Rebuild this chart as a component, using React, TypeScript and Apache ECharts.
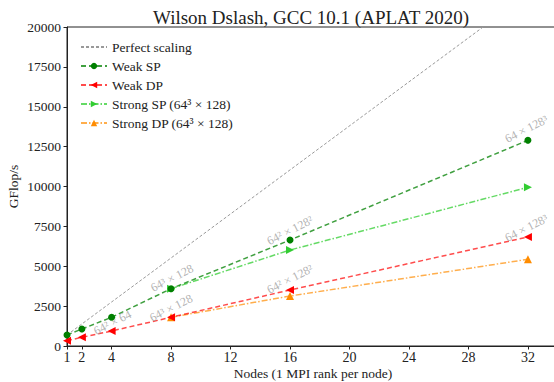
import React, { useEffect, useRef } from "react";
import * as echarts from "echarts";

const nodes = [1, 2, 4, 8, 16, 32];
const strongNodes = [8, 16, 32];
const perfectScaling = [690, 1380, 2760, 5520, 11040, 22080];
const weakSP = [690, 1066, 1800, 3594, 6646, 12897];
const weakDP = [332, 545, 940, 1800, 3511, 6834];
const strongSP = [3594, 6019, 9950];
const strongDP = [1800, 3135, 5436];
const xTicks = [1, 2, 4, 8, 12, 16, 20, 24, 28, 32];

const annotText = ["64² × 64", "64³ × 128", "64³ × 128", "64² × 128²", "64² × 128²", "64 × 128³", "64 × 128³"];
const annotX = [4.06, 8.06, 8.0, 16.0, 16.0, 31.9, 31.9];
const annotY = [1473, 4264, 2383, 7250, 4200, 13606, 7400];

const FONT = "'Liberation Serif', serif";

const pairs = (xs: number[], ys: number[]) => xs.map((x, i) => [x, ys[i]]);

export default function App() {
  const ref = useRef<HTMLDivElement>(null);
  useEffect(() => {
    if (!ref.current) return;
    const chart = echarts.init(ref.current, null, { renderer: "svg" });
    const lw = 1.5;
    chart.setOption({
      animation: false,
      backgroundColor: "#fff",
      title: {
        text: "Wilson Dslash, GCC 10.1 (APLAT 2020)",
        left: 306,
        textAlign: "center",
        top: 3,
        textStyle: { fontFamily: FONT, fontSize: 19, fontWeight: "normal", color: "#222" },
      },
      legend: {
        orient: "vertical",
        left: 75,
        top: 35,
        itemWidth: 26,
        itemHeight: 8,
        itemGap: 5,
        textStyle: { fontFamily: FONT, fontSize: 13.5, color: "#222" },
        data: [
          { name: "Perfect scaling", itemStyle: { opacity: 0 } },
          "Weak SP",
          "Weak DP",
          "Strong SP (64³ × 128)",
          "Strong DP (64³ × 128)",
        ],
      },
      grid: {
        left: 67,
        top: 27,
        right: -5,
        bottom: 36,
        show: true,
        borderColor: "#222",
        borderWidth: 1,
        containLabel: false,
        outerBoundsMode: "none",
      },
      xAxis: {
        type: "value",
        min: 1,
        max: 34.09,
        name: "Nodes (1 MPI rank per node)",
        nameLocation: "middle",
        nameGap: 20,
        nameMoveOverlap: false,
        nameTextStyle: { fontFamily: FONT, fontSize: 13.5, color: "#222" },
        axisLine: { lineStyle: { color: "#222" } },
        splitLine: { show: false },
        axisTick: { customValues: xTicks, length: 3.5, lineStyle: { color: "#222" } },
        axisLabel: {
          customValues: xTicks,
          fontFamily: FONT,
          fontSize: 14,
          color: "#222",
          margin: 4,
        },
      },
      yAxis: {
        type: "value",
        min: 0,
        max: 20000,
        interval: 2500,
        name: "GFlop/s",
        nameLocation: "middle",
        nameGap: 47,
        nameMoveOverlap: false,
        nameTextStyle: { fontFamily: FONT, fontSize: 13.5, color: "#222" },
        axisLine: { show: true, lineStyle: { color: "#222" } },
        splitLine: { show: false },
        axisTick: { show: true, length: 3.5, lineStyle: { color: "#222" } },
        axisLabel: {
          fontFamily: FONT,
          fontSize: 13.5,
          color: "#222",
          margin: 6,
          formatter: (v: number) => String(v),
        },
      },
      series: [
        {
          name: "Perfect scaling",
          type: "line",
          data: pairs(nodes, perfectScaling),
          showSymbol: false,
          symbol: "none",
          color: "#999",
          lineStyle: { color: "#999", width: 1, type: [3, 2] },
          z: 1,
        },
        {
          name: "Weak SP",
          type: "line",
          data: pairs(nodes, weakSP),
          symbol: "circle",
          symbolSize: 7,
          color: "#008000",
          itemStyle: { color: "#008000" },
          lineStyle: { color: "rgba(0,128,0,0.75)", width: lw, type: [5, 3] },
          z: 3,
        },
        {
          name: "Weak DP",
          type: "line",
          data: pairs(nodes, weakDP),
          symbol: "triangle",
          symbolRotate: 90,
          symbolSize: 8,
          color: "#ff0000",
          itemStyle: { color: "#ff0000" },
          lineStyle: { color: "rgba(255,0,0,0.7)", width: lw, type: [5, 3] },
          z: 3,
        },
        {
          name: "Strong SP (64³ × 128)",
          type: "line",
          data: pairs(strongNodes, strongSP),
          symbol: "triangle",
          symbolRotate: -90,
          symbolSize: 8,
          color: "#32cd32",
          itemStyle: { color: "#32cd32" },
          lineStyle: { color: "rgba(50,205,50,0.75)", width: lw, type: [6, 2, 1.5, 2] },
          z: 2,
        },
        {
          name: "Strong DP (64³ × 128)",
          type: "line",
          data: pairs(strongNodes, strongDP),
          symbol: "triangle",
          symbolSize: 8,
          color: "#ff8c00",
          itemStyle: { color: "#ff8c00" },
          lineStyle: { color: "rgba(255,140,0,0.7)", width: lw, type: [6, 2, 1.5, 2] },
          z: 2,
        },
        {
          name: "annotations",
          type: "scatter",
          symbolSize: 0,
          silent: true,
          z: 5,
          data: annotText.map((t, i) => ({
            value: [annotX[i], annotY[i]],
            label: {
              show: true,
              formatter: t,
              position: "inside",
              rotate: 27,
              fontFamily: FONT,
              fontSize: 12,
              color: "#a0a0a0",
            },
          })),
        },
      ],
    });
    return () => chart.dispose();
  }, []);
  return <div ref={ref} style={{ position: "fixed", left: 0, top: 0, width: 554, height: 382 }} />;
}
